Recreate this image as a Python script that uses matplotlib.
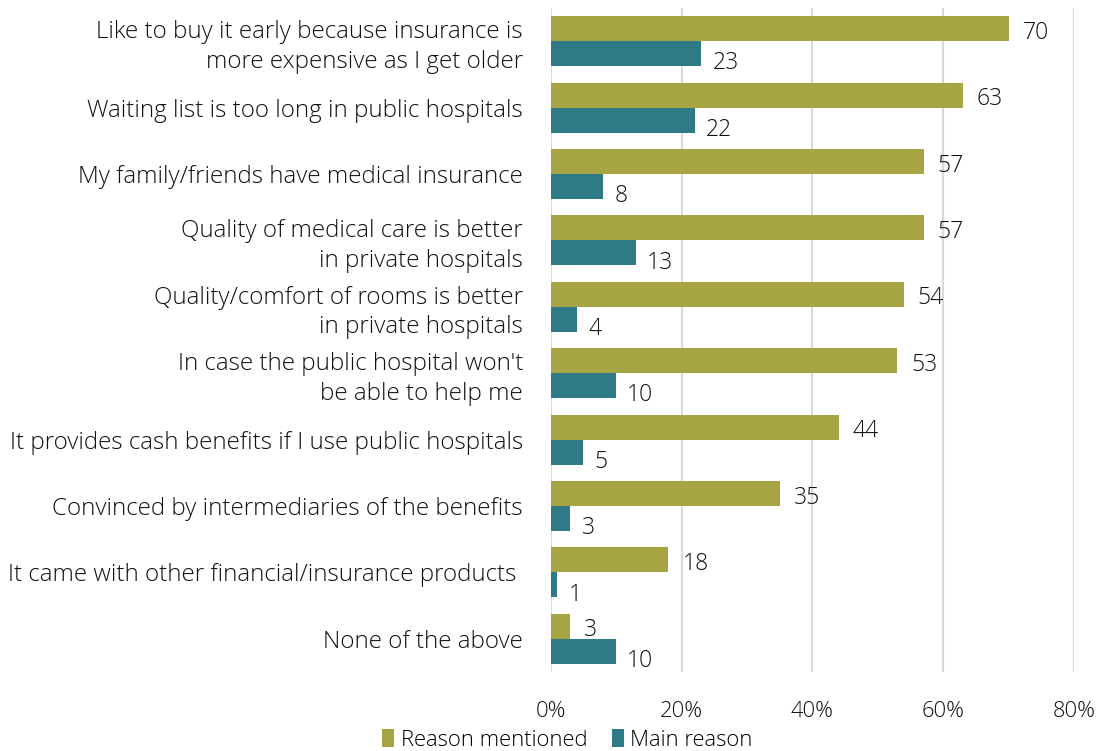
import matplotlib
matplotlib.use("Agg")
import matplotlib.pyplot as plt
import numpy as np

categories = [
    "Like to buy it early because insurance is\nmore expensive as I get older",
    "Waiting list is too long in public hospitals",
    "My family/friends have medical insurance",
    "Quality of medical care is better\nin private hospitals",
    "Quality/comfort of rooms is better\nin private hospitals",
    "In case the public hospital won't\nbe able to help me",
    "It provides cash benefits if I use public hospitals",
    "Convinced by intermediaries of the benefits",
    "It came with other financial/insurance products ",
    "None of the above",
]
reason_mentioned = [70, 63, 57, 57, 54, 53, 44, 35, 18, 3]
main_reason = [23, 22, 8, 13, 4, 10, 5, 3, 1, 10]
x_ticks = [0, 20, 40, 60, 80]
x_tick_labels = ["0%", "20%", "40%", "60%", "80%"]
series_names = ["Reason mentioned", "Main reason"]

OLIVE = "#A7A444"
TEAL = "#2E7A86"
TEXT = "#111111"
FONT = ["Open Sans", "DejaVu Sans"]
plt.rcParams["font.family"] = FONT
plt.rcParams["font.weight"] = "light"

FS_CAT = 17.4
FS = 16.5
FS_TICK = 15.8
FS_LEG = 15.8

fig = plt.figure(figsize=(11.06, 7.51), dpi=100)
ax = fig.add_axes([0.498, 0.1052, 0.473, 0.8841])

y = np.arange(len(categories))
h = 0.377
ax.barh(y - h / 2, reason_mentioned, height=h, color=OLIVE, label=series_names[0], zorder=3)
ax.barh(y + h / 2, main_reason, height=h, color=TEAL, label=series_names[1], zorder=3)

for yi, v in zip(y, reason_mentioned):
    ax.annotate(f"{v}", (v, yi - h / 2), xytext=(10, -3), textcoords="offset points",
                ha="left", va="center", fontsize=FS, color=TEXT)
for yi, v in zip(y, main_reason):
    ax.annotate(f"{v}", (v, yi + h / 2), xytext=(8, -7), textcoords="offset points",
                ha="left", va="center", fontsize=FS, color=TEXT)

ax.set_xlim(0, 80)
ax.set_ylim(len(categories) - 0.5, -0.5)
ax.set_xticks(x_ticks)
ax.set_xticklabels(x_tick_labels, fontsize=FS_TICK, color=TEXT)
ax.set_yticks(y)
ax.set_yticklabels(categories, fontsize=FS_CAT, color=TEXT, ha="right", linespacing=1.3)
ax.tick_params(axis="both", length=0)
ax.tick_params(axis="x", pad=21)
ax.tick_params(axis="y", pad=20)
ax.grid(axis="x", color="#D9D9D9", linewidth=1.5, zorder=0)
for s in ax.spines.values():
    s.set_visible(False)

fig.legend(loc="lower center", bbox_to_anchor=(0.513, -0.017), ncol=2, frameon=False,
           fontsize=FS_LEG, handlelength=0.55, handleheight=0.85, handletextpad=0.3,
           columnspacing=1.1, borderaxespad=0.2)

fig.savefig("out.png", dpi=100, facecolor="white")
